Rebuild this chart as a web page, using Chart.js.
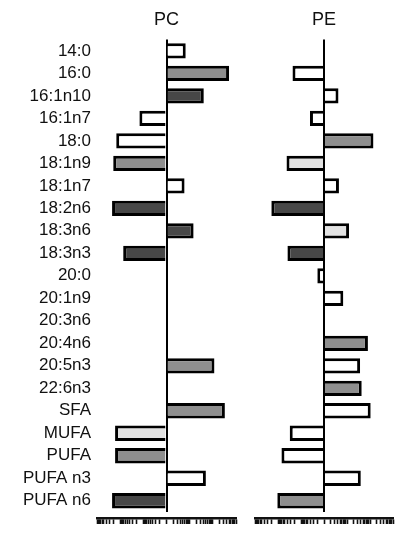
<!DOCTYPE html>
<html>
<head>
<meta charset="utf-8">
<script src="https://cdn.jsdelivr.net/npm/chart.js@4.4.1/dist/chart.umd.min.js"></script>
<style>
  html, body { margin: 0; padding: 0; background: #ffffff; }
  #wrap { position: relative; width: 396px; height: 534px; }
  #pc { position: absolute; left: 0; top: 0; }
  #pe { position: absolute; left: 246px; top: 0; }
</style>
</head>
<body>
<div id="wrap">
  <canvas id="pc" width="246" height="534"></canvas>
  <canvas id="pe" width="150" height="534"></canvas>
</div>
<script>
// Fatty acid species and class totals, top to bottom
const categories = [
  '14:0', '16:0', '16:1n10', '16:1n7', '18:0', '18:1n9', '18:1n7',
  '18:2n6', '18:3n6', '18:3n3', '20:0', '20:1n9', '20:3n6', '20:4n6',
  '20:5n3', '22:6n3', 'SFA', 'MUFA', 'PUFA', 'PUFA n3', 'PUFA n6'
];

// Change per fatty acid, in log decades (null = no change shown)
const pcValues = [
  0.83, 2.70, 1.61, -1.17, -2.17, -2.30, 0.78,
  -2.35, 1.17, -1.87, null, null, null, null,
  2.07, null, 2.52, -2.22, -2.22, 1.70, -2.35
];
const peValues = [
  null, -1.37, 0.63, -0.61, 2.15, -1.63, 0.65,
  -2.29, 1.09, -1.59, -0.29, 0.84, null, 1.91,
  1.57, 1.64, 2.03, -1.49, -1.85, 1.60, -2.03
];

// Fill shade of each bar: w = white, l = light, g = grey, d = dark
const pcShades = [
  'w', 'g', 'd', 'w', 'w', 'g', 'w',
  'd', 'd', 'd', 'w', 'w', 'w', 'w',
  'g', 'w', 'g', 'l', 'g', 'w', 'd'
];
const peShades = [
  'w', 'w', 'w', 'w', 'g', 'l', 'w',
  'd', 'l', 'd', 'w', 'w', 'w', 'g',
  'w', 'g', 'w', 'w', 'w', 'w', 'g'
];

const panelTitles = ['PC', 'PE'];
const axisMin = -3;
const axisMax = 3;

const palette = { w: '#ffffff', l: '#e2e2e2', g: '#8e8e8e', d: '#474747' };
const FONT = 'Liberation Sans, Arial, Helvetica, sans-serif';
const INK = '#111111';

// Symmetric log tick marks: 1..10 within each decade on both sides of zero
function logTicks() {
  const vals = new Set([0]);
  for (let k = 0; k < 3; k++) {
    for (let m = 1; m <= 10; m++) {
      const v = +(k + Math.log10(m)).toFixed(4);
      vals.add(v);
      vals.add(-v);
    }
  }
  return Array.from(vals).sort((a, b) => a - b).map(v => ({ value: v }));
}

function makePanel(canvasId, title, values, shades, showLabels, padding) {
  return new Chart(document.getElementById(canvasId), {
    type: 'bar',
    data: {
      labels: categories,
      datasets: [{
        data: values,
        backgroundColor: shades.map(s => palette[s]),
        borderColor: '#000000',
        borderWidth: 3,
        barPercentage: 0.68,
        categoryPercentage: 1.0,
        xAxisID: 'x',
        yAxisID: 'y'
      }]
    },
    options: {
      indexAxis: 'y',
      responsive: false,
      animation: false,
      devicePixelRatio: 1,
      layout: { padding: padding },
      plugins: {
        legend: { display: false },
        tooltip: { enabled: false },
        title: { display: false }
      },
      scales: {
        // panel title, centred over the plot area
        xt: {
          type: 'linear',
          position: 'top',
          min: axisMin,
          max: axisMax,
          grid: { display: false, drawTicks: false },
          border: { display: false },
          ticks: { display: false },
          title: {
            display: true,
            text: title,
            color: INK,
            font: { family: FONT, size: 18 },
            padding: { top: 0, bottom: 9 }
          }
        },
        // value scale: draws the zero line through the bars
        x: {
          type: 'linear',
          position: 'bottom',
          weight: 0,
          min: axisMin,
          max: axisMax,
          afterBuildTicks: s => { s.ticks = [{ value: 0 }]; },
          grid: {
            display: true,
            drawOnChartArea: true,
            color: '#000000',
            lineWidth: 2,
            drawTicks: true,
            tickLength: 6,
            tickColor: 'rgba(0,0,0,0)'
          },
          border: { display: false },
          ticks: { display: false }
        },
        // tick ruler below the plot
        x2: {
          type: 'linear',
          position: 'bottom',
          weight: 1,
          min: axisMin,
          max: axisMax,
          afterBuildTicks: s => { s.ticks = logTicks(); },
          grid: {
            display: true,
            drawOnChartArea: false,
            drawTicks: true,
            tickLength: 6,
            tickWidth: 1.6,
            tickColor: '#111111'
          },
          border: { display: true, color: '#111111', width: 2.5 },
          ticks: { display: false }
        },
        y: {
          type: 'category',
          position: 'left',
          display: showLabels,
          offset: true,
          afterFit: s => { if (showLabels) s.width = 97; },
          grid: { display: false, drawTicks: false },
          border: { display: false },
          ticks: {
            color: INK,
            padding: 6,
            autoSkip: false,
            font: { family: FONT, size: 17 }
          }
        }
      }
    }
  });
}

makePanel('pc', panelTitles[0], pcValues, pcShades, true,
  { top: 9, left: 0, right: 10, bottom: 10 });
makePanel('pe', panelTitles[1], peValues, peShades, false,
  { top: 9, left: 9, right: 3, bottom: 10 });
</script>
</body>
</html>
